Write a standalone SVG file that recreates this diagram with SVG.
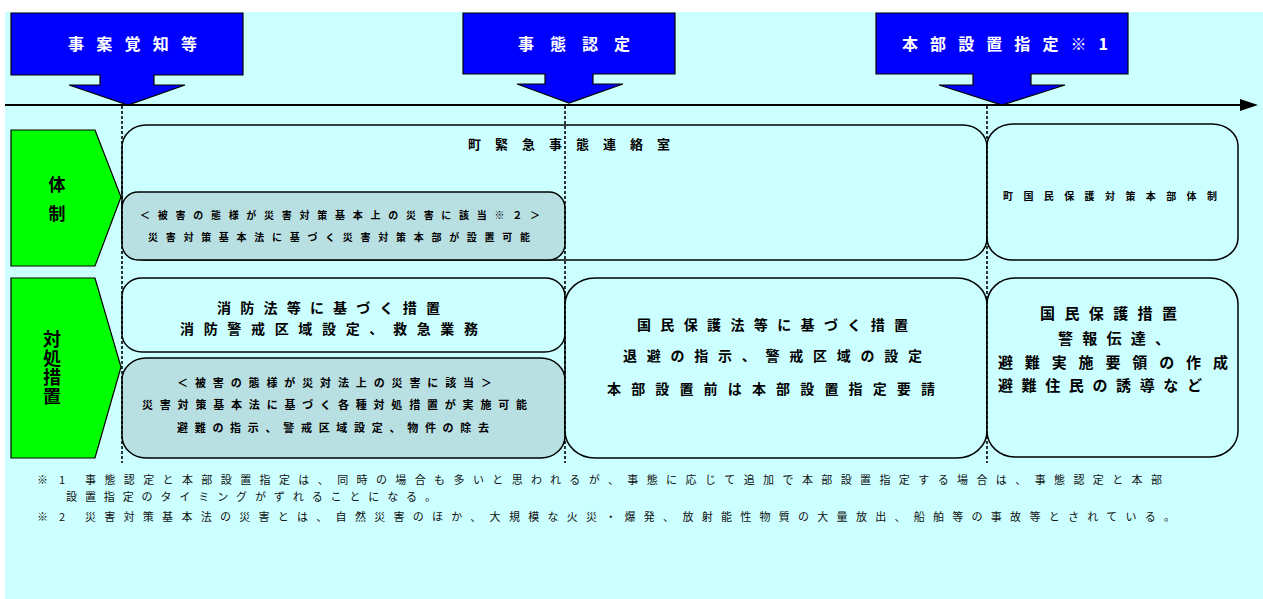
<svg xmlns="http://www.w3.org/2000/svg" width="1263" height="599" viewBox="0 0 1263 599">
<defs>
<style>
.bg{fill:#ccffff}
.arr{fill:#0000ff;stroke:#000;stroke-width:1.2}
.grn{fill:#00ff00;stroke:#000;stroke-width:1.2}
.box{fill:#ccffff;stroke:#000;stroke-width:1.5}
.gbox{fill:#b8dfe2;stroke:#000;stroke-width:1.5}
.dash{stroke:#000;stroke-width:1.6;stroke-dasharray:3 2;fill:none}
text{font-family:"Noto Sans CJK JP","Noto Sans CJK SC",sans-serif;font-weight:bold;dominant-baseline:central;fill:#000}
.wt{fill:#fff;font-size:16px}
.lbl{font-size:17px;text-anchor:middle}
.vl{font-size:18px;writing-mode:vertical-rl;letter-spacing:1px}
.t10{font-size:10px}
.t11{font-size:11px}
.t13{font-size:13px}
.t14{font-size:14px}
.t15{font-size:15px}
.fn{font-size:11px;font-weight:normal;fill:#111}
</style>
</defs>
<rect class="bg" x="5" y="12" width="1258" height="587"/>

<g id="arrow-jian">
<polygon class="arr" points="11,13 243,13 243,75 154,75 154,85 185,85 128,105 69,85 100,85 100,75 11,75"/>
<text class="wt" x="68" y="43" textLength="129" lengthAdjust="spacing">事案覚知等</text>
</g>
<g id="arrow-nintei">
<polygon class="arr" points="463,13 675,13 675,74 593,74 593,84 623,84 569,103 517,84 545,84 545,74 463,74"/>
<text class="wt" x="518" y="43" textLength="112" lengthAdjust="spacing">事態認定</text>
</g>
<g id="arrow-shitei">
<polygon class="arr" points="876,13 1128,13 1128,74 1031,74 1031,85 1065,85 1002,105 939,85 973,85 973,74 876,74"/>
<text class="wt" x="902" y="43" textLength="206" lengthAdjust="spacing">本部設置指定※1</text>
</g>

<g id="label-taisei">
<polygon class="grn" points="11,130 95,130 121,197 95,266 11,266"/>
<text class="lbl" x="57" y="183">体</text>
<text class="lbl" x="57" y="212">制</text>
</g>
<g id="label-taisho">
<polygon class="grn" points="11,278 95,278 121,367 95,458 11,458"/>
<text class="vl" x="52" y="330">対処措置</text>
</g>

<g id="box-renrakushitsu">
<rect class="box" x="122" y="125" width="865" height="135" rx="24" ry="22"/>
<text class="t13" x="468" y="143" textLength="202" lengthAdjust="spacing">町緊急事態連絡室</text>
</g>
<g id="box-saitai-honbu">
<rect class="gbox" x="122" y="192" width="443" height="68" rx="16" ry="16"/>
<text class="t10" x="140" y="214" textLength="400" lengthAdjust="spacing">＜被害の態様が災害対策基本上の災害に該当※２＞</text>
<text class="t10" x="148" y="236" textLength="382" lengthAdjust="spacing">災害対策基本法に基づく災害対策本部が設置可能</text>
</g>
<g id="box-kokumin-taisei">
<rect class="box" x="987" y="124" width="251" height="136" rx="26" ry="22"/>
<text class="t10" x="1003" y="195" textLength="214" lengthAdjust="spacing">町国民保護対策本部体制</text>
</g>

<g id="box-shobo">
<rect class="box" x="122" y="278" width="443" height="74" rx="20" ry="18"/>
<text class="t14" x="217" y="307" textLength="223" lengthAdjust="spacing">消防法等に基づく措置</text>
<text class="t14" x="180" y="328" textLength="298" lengthAdjust="spacing">消防警戒区域設定、救急業務</text>
</g>
<g id="box-saitai-sochi">
<rect class="gbox" x="122" y="358" width="443" height="100" rx="24" ry="22"/>
<text class="t11" x="177" y="382" textLength="315" lengthAdjust="spacing">＜被害の態様が災対法上の災害に該当＞</text>
<text class="t11" x="142" y="404" textLength="385" lengthAdjust="spacing">災害対策基本法に基づく各種対処措置が実施可能</text>
<text class="t11" x="177" y="427" textLength="312" lengthAdjust="spacing">避難の指示、警戒区域設定、物件の除去</text>
</g>
<g id="box-kokuminho">
<rect class="box" x="565" y="278" width="422" height="180" rx="30" ry="27"/>
<text class="t14" x="637" y="324" textLength="271" lengthAdjust="spacing">国民保護法等に基づく措置</text>
<text class="t14" x="623" y="355" textLength="299" lengthAdjust="spacing">退避の指示、警戒区域の設定</text>
<text class="t14" x="607" y="388" textLength="328" lengthAdjust="spacing">本部設置前は本部設置指定要請</text>
</g>
<g id="box-kokumin-sochi">
<rect class="box" x="987" y="278" width="251" height="179" rx="28" ry="26"/>
<text class="t15" x="1040" y="312" textLength="137" lengthAdjust="spacing">国民保護措置</text>
<text class="t15" x="1058" y="337" textLength="112" lengthAdjust="spacing">警報伝達、</text>
<text class="t15" x="998" y="361" textLength="230" lengthAdjust="spacing">避難実施要領の作成</text>
<text class="t15" x="998" y="384" textLength="204" lengthAdjust="spacing">避難住民の誘導など</text>
</g>

<g id="connectors">
<line x1="5" y1="105" x2="1242" y2="105" stroke="#000" stroke-width="2"/>
<polygon points="1240,99 1258,105 1240,111" fill="#000"/>
<line class="dash" x1="122" y1="106" x2="122" y2="463"/>
<line class="dash" x1="565" y1="106" x2="565" y2="463"/>
<line class="dash" x1="987" y1="106" x2="987" y2="463"/>
</g>

<g id="footnotes">
<text class="fn" x="37" y="479" textLength="28" lengthAdjust="spacing">※1</text>
<text class="fn" x="85" y="479" textLength="1077" lengthAdjust="spacing">事態認定と本部設置指定は、同時の場合も多いと思われるが、事態に応じて追加で本部設置指定する場合は、事態認定と本部</text>
<text class="fn" x="66" y="496" textLength="370" lengthAdjust="spacing">設置指定のタイミングがずれることになる。</text>
<text class="fn" x="37" y="516" textLength="28" lengthAdjust="spacing">※2</text>
<text class="fn" x="85" y="516" textLength="1090" lengthAdjust="spacing">災害対策基本法の災害とは、自然災害のほか、大規模な火災・爆発、放射能性物質の大量放出、船舶等の事故等とされている。</text>
</g>
</svg>
